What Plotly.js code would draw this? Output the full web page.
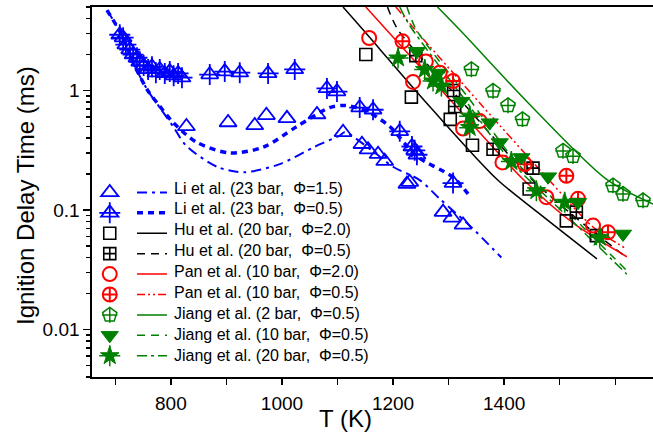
<!DOCTYPE html>
<html>
<head>
<meta charset="utf-8">
<script src="https://cdn.plot.ly/plotly-3.0.1.min.js"></script>
<style>html,body{margin:0;padding:0;background:#fff;overflow:hidden}#chart{width:653px;height:448px}</style>
</head>
<body>
<div id="chart"></div>
<script>
// ---------- experimental data ----------
const li15_T   = [828, 903, 951, 972, 1009, 1063, 1110, 1144, 1155, 1173, 1185, 1225, 1230, 1290, 1306, 1326];
const li15_tau = [0.50, 0.54, 0.51, 0.62, 0.585, 0.63, 0.447, 0.355, 0.32, 0.293, 0.256, 0.165, 0.171, 0.096, 0.086, 0.075];

const li05_T   = [708, 714, 719, 726, 732, 739, 744, 751, 759, 766, 773, 780, 789, 798, 805, 813, 820, 870, 897, 924, 975, 1023, 1081, 1099, 1140, 1164, 1212, 1234, 1239, 1243, 1308];
const li05_tau = [2.93, 2.77, 2.42, 2.2, 2.0, 1.88, 1.74, 1.62, 1.5, 1.58, 1.41, 1.5, 1.39, 1.44, 1.33, 1.39, 1.28, 1.36, 1.44, 1.41, 1.39, 1.5, 1.04, 0.98, 0.72, 0.69, 0.455, 0.34, 0.316, 0.29, 0.168];

const hu20_T   = [1151, 1233, 1303, 1343, 1445, 1512];
const hu20_tau = [2.0, 0.88, 0.573, 0.348, 0.150, 0.081];

const hu05_T   = [1241, 1309, 1311, 1380, 1452, 1530, 1566];
const hu05_tau = [1.96, 1.0, 0.735, 0.322, 0.224, 0.096, 0.061];

const pan20_T   = [1157, 1236, 1259, 1284, 1326, 1356, 1397, 1476, 1560];
const pan20_tau = [2.75, 1.18, 1.75, 1.41, 0.48, 0.555, 0.25, 0.128, 0.074];

const pan05_T   = [1217, 1308, 1437, 1512, 1533, 1587];
const pan05_tau = [2.58, 1.2, 0.242, 0.193, 0.124, 0.065];

const ji2_T   = [1341, 1380, 1407, 1433, 1506, 1524, 1596, 1614, 1650];
const ji2_tau = [1.5, 0.99, 0.75, 0.573, 0.312, 0.282, 0.16, 0.136, 0.12];

const ji10_T   = [1243, 1281, 1323, 1374, 1392, 1431, 1479, 1533, 1614];
const ji10_tau = [2.13, 1.40, 0.814, 0.538, 0.367, 0.275, 0.19, 0.116, 0.063];

const ji20_T   = [1209, 1257, 1272, 1287, 1338, 1338, 1413, 1458, 1509, 1572];
const ji20_tau = [1.87, 1.5, 1.2, 1.09, 0.61, 0.489, 0.254, 0.145, 0.116, 0.059];

// ---------- model curves ----------
const mLi15_T   = [685, 710, 738, 759, 780, 804, 828, 885, 933, 996, 1060, 1104, 1113, 1160, 1200, 1248, 1284, 1338, 1395];
const mLi15_tau = [4.7, 3.0, 1.5, 0.99, 0.72, 0.5, 0.343, 0.228, 0.207, 0.242, 0.34, 0.42, 0.447, 0.32, 0.23, 0.178, 0.124, 0.074, 0.040];

const mLi05_T   = [685, 710, 738, 759, 780, 804, 846, 906, 966, 1027, 1086, 1113, 1150, 1194, 1242, 1308, 1338];
const mLi05_tau = [4.7, 3.0, 1.5, 0.99, 0.74, 0.54, 0.37, 0.30, 0.335, 0.50, 0.72, 0.75, 0.68, 0.5, 0.283, 0.188, 0.131];

const mHu20_T   = [1110, 1146, 1266, 1387, 1464, 1567];
const mHu20_tau = [5.0, 3.22, 0.735, 0.181, 0.0927, 0.039];

const mHu05_T   = [1190, 1209, 1330, 1450, 1545, 1621];
const mHu05_tau = [5.0, 3.22, 0.75, 0.18, 0.075, 0.04];

const mPan20_T   = [1151, 1188, 1311, 1434, 1527, 1621];
const mPan20_tau = [5.0, 3.22, 0.76, 0.181, 0.076, 0.0406];

const mPan05_T   = [1205, 1240, 1360, 1480, 1560, 1621];
const mPan05_tau = [5.0, 3.22, 0.75, 0.18, 0.072, 0.047];

const mJi2_T   = [1280, 1320, 1446, 1584, 1668];
const mJi2_tau = [5.0, 3.22, 0.764, 0.181, 0.112];

const mJi10_T   = [1225, 1242, 1338, 1422, 1518, 1621];
const mJi10_tau = [5.0, 3.22, 0.84, 0.251, 0.0926, 0.031];

const mJi20_T   = [1212, 1230, 1329, 1414, 1509, 1621];
const mJi20_tau = [5.0, 3.5, 0.84, 0.25, 0.093, 0.029];

const names = [
  'Li et al. (23 bar,  \u03A6=1.5)',
  'Li et al. (23 bar,  \u03A6=0.5)',
  'Hu et al. (20 bar,  \u03A6=2.0)',
  'Hu et al. (20 bar,  \u03A6=0.5)',
  'Pan et al. (10 bar,  \u03A6=2.0)',
  'Pan et al. (10 bar,  \u03A6=0.5)',
  'Jiang et al. (2 bar,  \u03A6=0.5)',
  'Jiang et al. (10 bar,  \u03A6=0.5)',
  'Jiang et al. (20 bar,  \u03A6=0.5)'
];

const xTicks = [800, 1000, 1200, 1400];
const xMinor = [700, 900, 1100, 1300, 1500, 1600];
const yTicks = [0.01, 0.1, 1];
const yTickText = ['0.01', '0.1', '1'];

// ---------- styles ----------
const BLUE = '#0000FF', BLACK = '#000000', RED = '#FF0000', GREEN = '#008000';
const NB = '\u00a0';

function line(x, y, color, dash, width) {
  return {x: x, y: y, name: NB, mode: 'lines', type: 'scatter', legend: 'legend',
          line: {color: color, dash: dash, width: width, shape: 'spline', smoothing: 0.8},
          hoverinfo: 'skip'};
}
function pts(x, y, symbol, color, size, lw, leg) {
  return {x: x, y: y, name: NB, mode: 'markers', type: 'scatter', legend: leg,
          marker: {symbol: symbol, size: size, color: color, line: {color: color, width: lw}},
          hoverinfo: 'skip'};
}

const traces = [
  line(mLi15_T, mLi15_tau, BLUE, '10px,5px,3px,5px', 2),
  line(mLi05_T, mLi05_tau, BLUE, '6px,5px', 3.5),
  line(mHu20_T, mHu20_tau, BLACK, 'solid', 1.5),
  line(mHu05_T, mHu05_tau, BLACK, '8px,6px', 1.5),
  line(mPan20_T, mPan20_tau, RED, 'solid', 1.5),
  line(mPan05_T, mPan05_tau, RED, '8px,3px,2px,3px,2px,3px', 1.5),
  line(mJi2_T, mJi2_tau, GREEN, 'solid', 1.5),
  line(mJi10_T, mJi10_tau, GREEN, '8px,6px', 1.5),
  line(mJi20_T, mJi20_tau, GREEN, '10px,4px,3px,4px', 1.5),

  pts(li15_T, li15_tau, 'triangle-up-open', BLUE, 15, 1.8, 'legend2'),
  pts(li05_T, li05_tau, 'triangle-up-open', BLUE, 15, 1.8, 'legend2'),
  pts(hu20_T, hu20_tau, 'square-open', BLACK, 12, 1.6, 'legend2'),
  pts(hu05_T, hu05_tau, 'square-cross-open', BLACK, 12, 1.6, 'legend2'),
  pts(pan20_T, pan20_tau, 'circle-open', RED, 14, 2, 'legend2'),
  pts(pan05_T, pan05_tau, 'circle-cross-open', RED, 14, 2, 'legend2'),
  pts(ji2_T, ji2_tau, 'pentagon-open', GREEN, 15, 1.5, 'legend2'),
  pts(ji10_T, ji10_tau, 'triangle-down', GREEN, 15, 1, 'legend2'),
  pts(ji20_T, ji20_tau, 'star', GREEN, 14, 1, 'legend2'),

  // overlay layer (crossed variants); rows without a cross draw nothing
  pts(li15_T, li15_tau, 'circle', 'rgba(0,0,0,0)', 1, 0, 'legend3'),
  pts(li05_T, li05_tau, 'cross-thin-open', BLUE, 15, 1.8, 'legend3'),
  pts(hu20_T, hu20_tau, 'circle', 'rgba(0,0,0,0)', 1, 0, 'legend3'),
  pts(hu05_T, hu05_tau, 'circle', 'rgba(0,0,0,0)', 1, 0, 'legend3'),
  pts(pan20_T, pan20_tau, 'circle', 'rgba(0,0,0,0)', 1, 0, 'legend3'),
  pts(pan05_T, pan05_tau, 'circle', 'rgba(0,0,0,0)', 1, 0, 'legend3'),
  pts(ji2_T, ji2_tau, 'cross-thin-open', GREEN, 11, 1.5, 'legend3'),
  pts(ji10_T, ji10_tau, 'circle', 'rgba(0,0,0,0)', 1, 0, 'legend3'),
  pts(ji20_T, ji20_tau, 'cross-thin-open', GREEN, 15, 1.5, 'legend3')
];

const yMinor = [];
[0.001, 0.01, 0.1, 1].forEach(function (d) {
  [2, 3, 4, 5, 6, 7, 8, 9].forEach(function (k) { yMinor.push(k * d); });
});

const FONT = 'Liberation Sans, Arial, sans-serif';
const PL = 92, PT = 7, PW = 561, PH = 370;
function px2x(p) { return (p - PL) / PW; }
function px2y(p) { return 1 - (p - PT) / PH; }

const LEG_FONT = {size: 13.4, family: FONT, color: 'rgba(0,0,0,0)'};
const legendCommon = {
  yanchor: 'top', xanchor: 'left', y: 0.54,
  bgcolor: 'rgba(0,0,0,0)', borderwidth: 0, font: LEG_FONT,
  traceorder: 'normal', itemclick: false, itemdoubleclick: false
};

// legend texts as annotations (row pitch matches the reference)
const annotations = names.map(function (n, i) {
  return {text: n, xref: 'paper', yref: 'paper', x: px2x(172), y: px2y(188 + i * 20.9),
          xanchor: 'left', yanchor: 'middle', showarrow: false,
          font: {size: 16, family: FONT, color: '#000'}};
});
annotations.push({text: 'T (K)', xref: 'paper', yref: 'paper', x: px2x(345), y: px2y(418),
                  xanchor: 'center', yanchor: 'middle', showarrow: false,
                  font: {size: 24, family: FONT, color: '#000'}});
annotations.push({text: 'Ignition Delay Time (ms)', xref: 'paper', yref: 'paper', x: px2x(25), y: px2y(196),
                  xanchor: 'center', yanchor: 'middle', textangle: -90, showarrow: false,
                  font: {size: 24, family: FONT, color: '#000'}});

const layout = {
  width: 653, height: 448,
  margin: {l: PL, r: 0, t: PT, b: 448 - PT - PH, pad: 0},
  paper_bgcolor: '#fff', plot_bgcolor: '#fff',
  font: {family: FONT, color: '#000'},
  showlegend: true,
  annotations: annotations,
  xaxis: {
    range: [658, 1668], showgrid: false, zeroline: false,
    showline: true, linecolor: '#000', linewidth: 1.6, mirror: true,
    tickmode: 'array', tickvals: xTicks, ticks: 'outside', ticklen: 6, tickwidth: 1.4, tickcolor: '#000',
    ticklabelstandoff: 3,
    minor: {tickmode: 'array', tickvals: xMinor, ticks: 'outside', ticklen: 6, tickwidth: 1.4, tickcolor: '#000', showgrid: false},
    tickfont: {size: 19, family: FONT}
  },
  yaxis: {
    type: 'log', range: [Math.log10(0.004), Math.log10(5)],
    showgrid: false, zeroline: false,
    showline: true, linecolor: '#000', linewidth: 1.6, mirror: false,
    tickmode: 'array', tickvals: yTicks, ticktext: yTickText,
    ticks: 'outside', ticklen: 7, tickwidth: 1.4, tickcolor: '#000',
    minor: {tickmode: 'array', tickvals: yMinor, ticks: 'outside', ticklen: 4, tickwidth: 1.2, tickcolor: '#000', showgrid: false},
    tickfont: {size: 19, family: FONT}
  },
  legend: Object.assign({}, legendCommon, {x: 0.0713}),
  legend2: Object.assign({}, legendCommon, {x: -0.004}),
  legend3: Object.assign({}, legendCommon, {x: -0.004})
};

Plotly.newPlot('chart', traces, layout, {displayModeBar: false, staticPlot: true});
</script>
</body>
</html>
